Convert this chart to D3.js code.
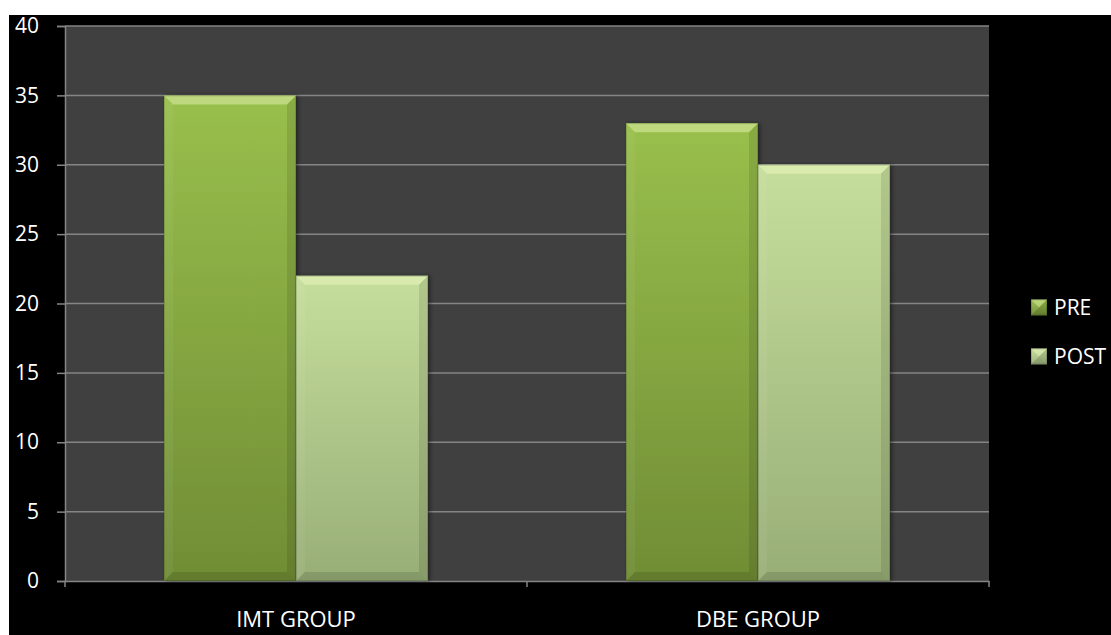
<!DOCTYPE html>
<html>
<head>
<meta charset="utf-8">
<script src="https://cdn.jsdelivr.net/npm/d3@7"></script>
<style>
  body { margin: 0; background: #fff; }
  text { font-family: "Open Sans", sans-serif; fill: #fff; }
</style>
</head>
<body>
<script>
// data
const groups = ["IMT GROUP", "DBE GROUP"];
const series = ["PRE", "POST"];
const preValues = [35, 33];   // IMT, DBE
const postValues = [22, 30];
const yTicks = [0, 5, 10, 15, 20, 25, 30, 35, 40];

const W = 1111, H = 635;
const plot = { left: 65, right: 989, top: 26, bottom: 581 };

const svg = d3.select("body").append("svg")
  .attr("width", W).attr("height", H);

// black frame
svg.append("rect").attr("x", 9).attr("y", 15)
  .attr("width", W - 9).attr("height", H - 15).attr("fill", "#000");

const defs = svg.append("defs");
const palette = {
  PRE: { top: "#99bf4c", bottom: "#708d35" },
  POST: { top: "#c6de9c", bottom: "#98ae77" }
};
series.forEach(s => {
  const g = defs.append("linearGradient").attr("id", "grad-" + s)
    .attr("x1", 0).attr("y1", 0).attr("x2", 0).attr("y2", 1);
  g.append("stop").attr("offset", "0%").attr("stop-color", palette[s].top);
  g.append("stop").attr("offset", "100%").attr("stop-color", palette[s].bottom);
});
const shadow = defs.append("filter").attr("id", "shadow")
  .attr("x", "-10%").attr("y", "-10%").attr("width", "130%").attr("height", "130%");
shadow.append("feDropShadow").attr("dx", 2).attr("dy", 0).attr("stdDeviation", 2)
  .attr("flood-color", "#000").attr("flood-opacity", 0.45);

// scales
const x0 = d3.scaleBand().domain(groups).range([plot.left, plot.right]);
const x1 = d3.scaleBand().domain(series).range([0, x0.bandwidth()]).paddingOuter(0.75);
const y = d3.scaleLinear().domain([0, 40]).range([plot.bottom, plot.top]);

// plot background
svg.append("rect")
  .attr("x", plot.left).attr("y", y(40))
  .attr("width", plot.right - plot.left).attr("height", y(0) - y(40))
  .attr("fill", "#404040");

// gridlines
svg.append("g").selectAll("line").data(yTicks.filter(d => d > 0)).join("line")
  .attr("x1", plot.left).attr("x2", plot.right)
  .attr("y1", d => y(d)).attr("y2", d => y(d))
  .attr("stroke", "#858585").attr("stroke-width", 1.5);

// y axis
const yAxis = svg.append("g").attr("transform", `translate(${plot.left},0)`)
  .call(d3.axisLeft(y).tickValues(yTicks).tickSize(8).tickPadding(18));
yAxis.select(".domain").attr("stroke", "#858585").attr("stroke-width", 1.5);
yAxis.selectAll(".tick line").attr("stroke", "#858585").attr("stroke-width", 1.5);
yAxis.selectAll(".tick text").attr("fill", "#fff")
  .style("font-family", "'Open Sans', sans-serif").style("font-size", "21px");

// x axis
const xAxis = svg.append("g").attr("transform", `translate(0,${plot.bottom})`)
  .call(d3.axisBottom(x0).tickValues([]).tickSizeOuter(0));
xAxis.select(".domain").attr("stroke", "#858585").attr("stroke-width", 1.5);
const boundaries = [plot.left, ...groups.map(g => x0(g) + x0.bandwidth())];
svg.append("g").selectAll("line").data(boundaries).join("line")
  .attr("x1", d => d).attr("x2", d => d)
  .attr("y1", plot.bottom).attr("y2", plot.bottom + 6)
  .attr("stroke", "#858585").attr("stroke-width", 1.5);
svg.append("g").selectAll("text").data(groups).join("text")
  .attr("x", d => x0(d) + x0.bandwidth() / 2)
  .attr("y", 627)
  .attr("text-anchor", "middle")
  .style("font-size", "22px")
  .text(d => d);

// bars
const rows = [];
groups.forEach((g, i) => {
  rows.push({ group: g, s: "PRE", value: preValues[i] });
  rows.push({ group: g, s: "POST", value: postValues[i] });
});

const bev = 9;
function bevel(sel, bx, by, bw, bh) {
  const b = Math.min(bev, bw / 2, bh / 2);
  // top light
  sel.append("polygon")
    .attr("points", [[bx, by], [bx + bw, by], [bx + bw - b, by + b], [bx + b, by + b]].join(" "))
    .attr("fill", "#f4ffc8").attr("opacity", 0.4);
  // left side
  sel.append("polygon")
    .attr("points", [[bx, by], [bx + b, by + b], [bx + b, by + bh - b], [bx, by + bh]].join(" "))
    .attr("fill", "#fff").attr("opacity", 0.05);
  // right side
  sel.append("polygon")
    .attr("points", [[bx + bw, by], [bx + bw, by + bh], [bx + bw - b, by + bh - b], [bx + bw - b, by + b]].join(" "))
    .attr("fill", "#000").attr("opacity", 0.1);
  // bottom
  sel.append("polygon")
    .attr("points", [[bx, by + bh], [bx + b, by + bh - b], [bx + bw - b, by + bh - b], [bx + bw, by + bh]].join(" "))
    .attr("fill", "#000").attr("opacity", 0.12);
  sel.append("rect").attr("x", bx + 0.5).attr("y", by + 0.5)
    .attr("width", bw - 1).attr("height", bh - 1)
    .attr("fill", "none").attr("stroke", "#000").attr("stroke-opacity", 0.15);
}

const barG = svg.append("g");
rows.forEach(r => {
  const bx = x0(r.group) + x1(r.s);
  const by = y(r.value);
  const bw = x1.bandwidth();
  const bh = y(0) - y(r.value);
  const g = barG.append("g");
  g.append("rect").attr("x", bx).attr("y", by).attr("width", bw).attr("height", bh)
    .attr("fill", `url(#grad-${r.s})`).attr("filter", "url(#shadow)");
  bevel(g, bx, by, bw, bh);
});

// legend
const legendY = d3.scaleBand().domain(series).range([283, 381]);
const leg = svg.append("g");
series.forEach(s => {
  const cy = legendY(s) + legendY.bandwidth() / 2;
  const g = leg.append("g");
  g.append("rect").attr("x", 1031).attr("y", cy - 8).attr("width", 16).attr("height", 16)
    .attr("fill", `url(#grad-${s})`);
  bevel(g, 1031, cy - 8, 16, 16);
  g.append("text").attr("x", 1054).attr("y", cy)
    .attr("dy", "0.36em").style("font-size", "21px").text(s);
});
</script>
</body>
</html>
